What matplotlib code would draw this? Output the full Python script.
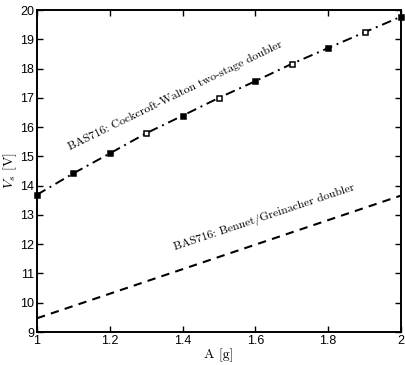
import matplotlib
matplotlib.use('Agg')
import matplotlib.pyplot as plt

# данные
a_cw = [1.0, 1.1, 1.2, 1.3, 1.4, 1.5, 1.6, 1.7, 1.8, 1.9, 2.0]
vs_cw = [13.69, 14.42, 15.10, 15.79, 16.39, 17.0, 17.57, 18.16, 18.70, 19.24, 19.77]
cw_filled = [True, True, True, False, True, False, True, False, True, False, True]

a_bg = [1.0, 2.0]
vs_bg = [9.47, 13.66]

plt.rcParams['mathtext.fontset'] = 'cm'
plt.rcParams['font.family'] = 'Liberation Sans'

fig = plt.figure(figsize=(4.05, 3.65), dpi=100)
ax = fig.add_axes([0.0914, 0.0904, 0.8986, 0.8822])

ax.plot(a_cw, vs_cw, color='black', linestyle='-.', linewidth=1.4, dashes=(5, 2.5, 1, 2.5))
for x, y, f in zip(a_cw, vs_cw, cw_filled):
    ax.plot(x, y, marker='s', markersize=3.6, markeredgewidth=1.1,
            markeredgecolor='black', markerfacecolor='black' if f else 'white',
            linestyle='none', clip_on=False, zorder=3)

ax.plot(a_bg, vs_bg, color='black', linestyle='--', linewidth=1.5, dashes=(4, 3))

ax.set_xlim(1, 2)
ax.set_ylim(9, 20)
ax.set_xticks([1, 1.2, 1.4, 1.6, 1.8, 2])
ax.set_xticklabels(['1', '1.2', '1.4', '1.6', '1.8', '2'])
ax.set_yticks(range(9, 21))
ax.tick_params(direction='in', top=True, right=True, labelsize=9, length=4,
               width=1, pad=2)
for s in ax.spines.values():
    s.set_linewidth(1.4)

ax.set_xlabel('A [g]', fontfamily='cmr10', fontsize=10, labelpad=1)
ax.set_ylabel(r'$V_s$ [V]', fontfamily='cmr10', fontsize=10, labelpad=1)

ax.text(1.09, 15.22, 'BAS716: Cockcroft-Walton two-stage doubler', fontfamily='cmr10',
        fontsize=8.5, rotation=26, rotation_mode='anchor', ha='left', va='baseline')
ax.text(1.38, 11.78, 'BAS716: Bennet/Greinacher doubler', fontfamily='cmr10',
        fontsize=8.5, rotation=18.5, rotation_mode='anchor', ha='left', va='baseline')

fig.savefig('out.png', dpi=100)
